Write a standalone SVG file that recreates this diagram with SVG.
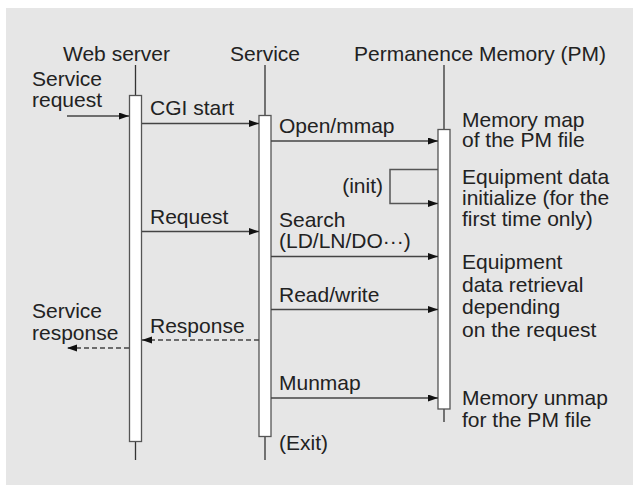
<svg xmlns="http://www.w3.org/2000/svg" width="633" height="485" viewBox="0 0 633 485">
  <defs>
    <marker id="arrow" markerUnits="userSpaceOnUse" markerWidth="11" markerHeight="8" refX="10" refY="3.5" orient="auto">
      <path d="M0,0 L10,3.5 L0,7 z" fill="#111"/>
    </marker>
    <style>
      text { font-family: "Liberation Sans", Arial, sans-serif; font-size: 21px; fill: #222; }
      .life { stroke: #333; stroke-width: 1.3; fill: none; }
      .act { fill: #fff; stroke: #555; stroke-width: 1.3; }
      .msg { stroke: #444; stroke-width: 1.3; fill: none; marker-end: url(#arrow); }
      .ret { stroke: #444; stroke-width: 1.3; fill: none; stroke-dasharray: 5 3; marker-end: url(#arrow); }
      .loop { stroke: #555; stroke-width: 1.5; fill: none; marker-end: url(#arrow); }
      .end { text-anchor: end; }
    </style>
  </defs>

  <rect x="6" y="8" width="627" height="477" fill="#e6e6e6"/>

  <!-- Web server lifeline -->
  <g id="web-server">
    <text x="63" y="61">Web server</text>
    <line class="life" x1="135.5" y1="65" x2="135.5" y2="460"/>
    <rect class="act" x="129.5" y="95.5" width="12" height="346"/>
  </g>

  <!-- Service lifeline -->
  <g id="service">
    <text x="230" y="61">Service</text>
    <line class="life" x1="265" y1="65" x2="265" y2="460"/>
    <rect class="act" x="259" y="115.5" width="12" height="321"/>
  </g>

  <!-- Permanence Memory lifeline -->
  <g id="pm">
    <text x="354" y="61">Permanence Memory (PM)</text>
    <line class="life" x1="444" y1="65" x2="444" y2="422"/>
    <rect class="act" x="438" y="129.5" width="12" height="279.5"/>
  </g>

  <!-- Messages -->
  <g id="connectors">
    <line class="msg" x1="67" y1="116" x2="129" y2="116"/>
    <line class="msg" x1="142" y1="123.5" x2="259" y2="123.5"/>
    <line class="msg" x1="271" y1="141" x2="438" y2="141"/>
    <polyline class="loop" points="438,169.5 390,169.5 390,203.5 438,203.5"/>
    <line class="msg" x1="142" y1="231.5" x2="259" y2="231.5"/>
    <line class="msg" x1="271" y1="256.5" x2="438" y2="256.5"/>
    <line class="msg" x1="271" y1="309.5" x2="438" y2="309.5"/>
    <line class="ret" x1="259" y1="340" x2="142" y2="340"/>
    <line class="ret" x1="129" y1="348" x2="67" y2="348"/>
    <line class="msg" x1="271" y1="398" x2="438" y2="398"/>
  </g>

  <!-- Message labels -->
  <g id="labels">
    <text x="32" y="86">Service</text>
    <text x="32" y="107">request</text>
    <text x="150" y="115">CGI start</text>
    <text x="279" y="133">Open/mmap</text>
    <text class="end" x="383" y="193">(init)</text>
    <text x="150" y="224">Request</text>
    <text x="279" y="226.5">Search</text>
    <text x="279" y="248">(LD/LN/DO···)</text>
    <text x="279" y="301.5">Read/write</text>
    <text x="32" y="317.5">Service</text>
    <text x="32" y="339.5">response</text>
    <text x="150" y="332.5">Response</text>
    <text x="279" y="390">Munmap</text>
    <text x="279" y="450">(Exit)</text>
  </g>

  <!-- Notes beside the PM lifeline -->
  <g id="notes">
    <text x="462" y="126.5">Memory map</text>
    <text x="462" y="147">of the PM file</text>
    <text x="462" y="183.5">Equipment data</text>
    <text x="462" y="204.5">initialize (for the</text>
    <text x="462" y="225.5">first time only)</text>
    <text x="462" y="269">Equipment</text>
    <text x="462" y="291.5">data retrieval</text>
    <text x="462" y="314">depending</text>
    <text x="462" y="336.5">on the request</text>
    <text x="462" y="405">Memory unmap</text>
    <text x="462" y="427">for the PM file</text>
  </g>
</svg>
